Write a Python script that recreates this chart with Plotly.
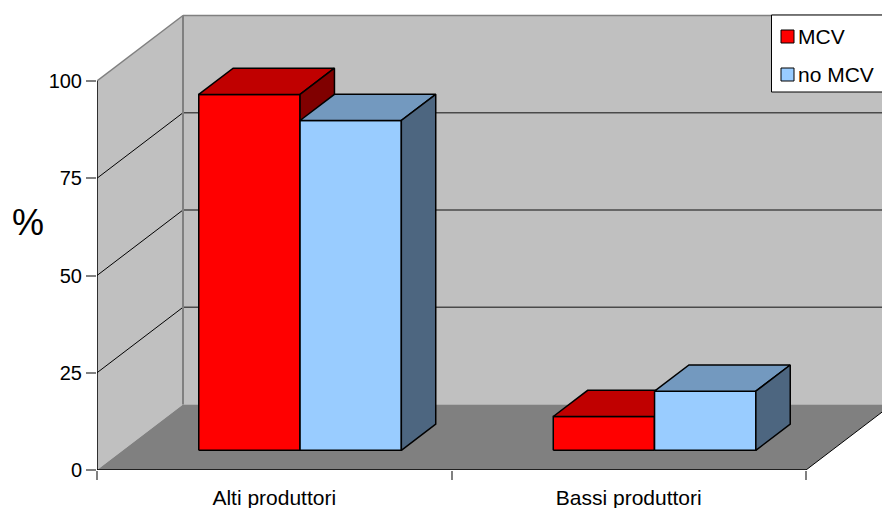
import plotly.graph_objects as go

# ---- data -------------------------------------------------------------
categories = ["Alti produttori", "Bassi produttori"]
series_names = ["MCV", "no MCV"]
mcv = [91.5, 8.7]
no_mcv = [84.8, 15.2]
y_ticks = [0, 25, 50, 75, 100]
y_label = "%"

series_values = {"MCV": mcv, "no MCV": no_mcv}
# front, top, side shading for each series
series_colors = {
    "MCV": ("#FF0000", "#C00000", "#800000"),
    "no MCV": ("#99CCFF", "#7399BF", "#4D6680"),
}

# ---- geometry of the oblique 3-D frame --------------------------------
W, H = 882, 508
L, B = 97, 38                      # left / bottom margins (px)
plot_w, plot_h = W - L, H - B
VMAX = 100
px_per_val = 389 / VMAX            # vertical scale on the front plane
px_per_cat = 709 / len(categories) # horizontal scale on the front plane
DX = 86 / px_per_cat               # depth shift in category units
DY = 65.5 / px_per_val             # depth shift in value units
NC = len(categories)

GAP_WIDTH = 1.5
BAR_W = 1 / (len(series_names) + GAP_WIDTH)
BAR_D0, BAR_D1 = 0.3, 0.7          # bar depth span (fraction of floor depth)

FONT = "Liberation Sans, Arial, sans-serif"


def proj(x, v, d):
    return x + d * DX, v + d * DY


def closed(points):
    xs, ys = zip(*[proj(*p) for p in points])
    return list(xs) + [xs[0]], list(ys) + [ys[0]]


fig = go.Figure()


def face(points, fill, edge=None, width=0.0):
    xs, ys = closed(points)
    fig.add_trace(go.Scatter(
        x=xs, y=ys, mode="lines", fill="toself", fillcolor=fill,
        line=dict(color=edge or fill, width=width if edge else 0),
        hoverinfo="skip", showlegend=False))


def seg(p0, p1, color, width):
    (x0, y0), (x1, y1) = proj(*p0), proj(*p1)
    fig.add_trace(go.Scatter(
        x=[x0, x1], y=[y0, y1], mode="lines",
        line=dict(color=color, width=width),
        hoverinfo="skip", showlegend=False))


# walls and floor
face([(0, 0, 1), (NC, 0, 1), (NC, VMAX, 1), (0, VMAX, 1)], "#C0C0C0")
face([(0, 0, 0), (0, VMAX, 0), (0, VMAX, 1), (0, 0, 1)], "#C0C0C0")
face([(0, 0, 0), (NC, 0, 0), (NC, 0, 1), (0, 0, 1)], "#808080")

# gridlines
for v in y_ticks[1:-1]:
    seg((0, v, 1), (NC, v, 1), "#4a4a4a", 1.4)
    seg((0, v, 0), (0, v, 1), "#000000", 1)

# wall edges
seg((0, VMAX, 0), (0, VMAX, 1), "#808080", 1.5)
seg((0, VMAX, 1), (NC, VMAX, 1), "#808080", 1.5)
seg((0, 0, 1), (0, VMAX, 1), "#808080", 2)
seg((NC, 0, 0), (NC, 0, 1), "#000000", 1)
seg((0, 0, 0), (NC, 0, 0), "#000000", 1.5)
seg((0, 0, 0), (0, VMAX, 0), "#000000", 1.5)

# bars
for i in range(NC):
    for j, name in enumerate(series_names):
        v = series_values[name][i]
        front, top, side = series_colors[name]
        x0 = i + 0.5 - BAR_W * len(series_names) / 2 + j * BAR_W
        x1 = x0 + BAR_W
        face([(x0, 0, BAR_D0), (x1, 0, BAR_D0), (x1, v, BAR_D0), (x0, v, BAR_D0)],
             front, "#000000", 1.5)
        face([(x0, v, BAR_D0), (x1, v, BAR_D0), (x1, v, BAR_D1), (x0, v, BAR_D1)],
             top, "#000000", 1.5)
        face([(x1, 0, BAR_D0), (x1, 0, BAR_D1), (x1, v, BAR_D1), (x1, v, BAR_D0)],
             side, "#000000", 1.5)

# carrier for the category-label axis
fig.add_trace(go.Scatter(x=[None], y=[None], xaxis="x2", showlegend=False,
                         hoverinfo="skip"))


# ---- legend box (pixel positions converted to paper coordinates) -------
def px(xp):
    return (xp - L) / plot_w


def py(yp):
    return (plot_h - yp) / plot_h


shapes = [dict(type="rect", xref="paper", yref="paper",
               x0=px(771.5), x1=px(900), y0=py(92), y1=py(15),
               fillcolor="white", line=dict(color="#000000", width=1))]
annotations = []
for k, name in enumerate(series_names):
    cy = 36.5 + 38 * k
    shapes.append(dict(type="rect", xref="paper", yref="paper",
                       x0=px(781), x1=px(794), y0=py(cy + 6.5), y1=py(cy - 6.5),
                       fillcolor=series_colors[name][0],
                       line=dict(color="#000000", width=1)))
    annotations.append(dict(text=name, xref="paper", yref="paper",
                            x=px(796), y=py(cy), xanchor="left", yanchor="middle",
                            showarrow=False, font=dict(size=21, color="black")))

annotations.append(dict(text=y_label, xref="paper", yref="paper",
                        x=px(28), y=py(222), xanchor="center", yanchor="middle",
                        showarrow=False, font=dict(size=36, color="black")))

x_range = [0, plot_w / px_per_cat]
fig.update_layout(
    width=W, height=H, autosize=False,
    margin=dict(l=L, r=0, t=0, b=B, pad=0),
    paper_bgcolor="white", plot_bgcolor="white",
    font=dict(family=FONT, color="black"),
    showlegend=False,
    shapes=shapes, annotations=annotations,
    xaxis=dict(range=x_range, tickvals=list(range(NC + 1)), ticks="outside",
               ticklen=9, tickwidth=1.5, tickcolor="#808080",
               showticklabels=False, showgrid=False, zeroline=False,
               showline=False, automargin=False, fixedrange=True),
    xaxis2=dict(range=x_range, overlaying="x", anchor="y", side="bottom",
                tickvals=[i + 0.5 for i in range(NC)], ticktext=categories,
                ticks="outside", ticklen=9, tickcolor="rgba(0,0,0,0)",
                tickfont=dict(size=21, color="black"),
                showgrid=False, zeroline=False, showline=False,
                automargin=False, fixedrange=True),
    yaxis=dict(range=[0, plot_h / px_per_val], tickvals=y_ticks, ticks="outside",
               ticklen=10, tickwidth=1.5, tickcolor="#808080",
               tickfont=dict(size=20, color="black"),
               showgrid=False, zeroline=False, showline=False,
               automargin=False, fixedrange=True),
)

fig.write_html("out.html")
